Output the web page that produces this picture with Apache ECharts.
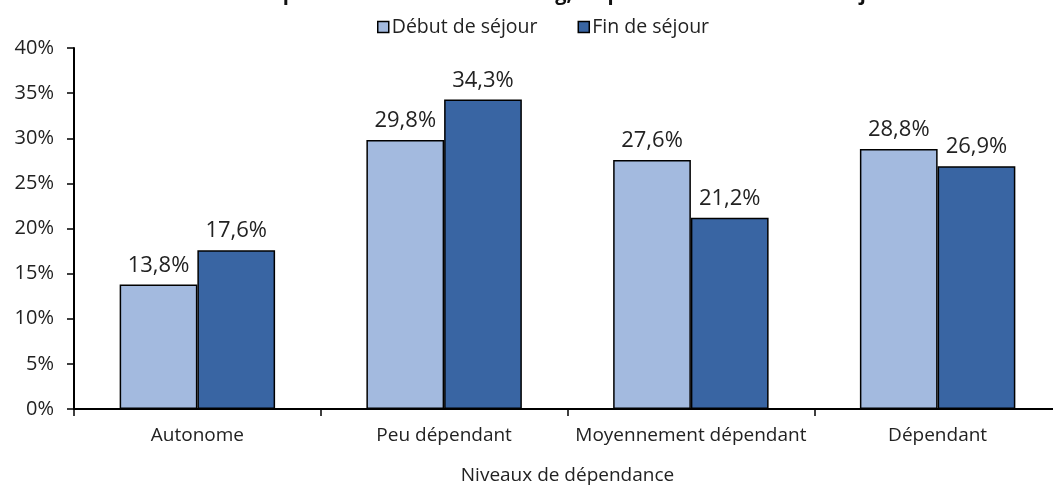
<!DOCTYPE html>
<html>
<head>
<meta charset="utf-8">
<script src="https://cdn.jsdelivr.net/npm/echarts@6/dist/echarts.min.js"></script>
<style>
  html, body { margin: 0; padding: 0; background: #fff; }
  #chart { width: 1053px; height: 485px; }
</style>
</head>
<body>
<div id="chart"></div>
<script>
var categories = ['Autonome', 'Peu dépendant', 'Moyennement dépendant', 'Dépendant'];
var debutSejour = [13.8, 29.8, 27.6, 28.8];
var finSejour = [17.6, 34.3, 21.2, 26.9];
var seriesNames = ['Début de séjour', 'Fin de séjour'];

var myChart = echarts.init(document.getElementById('chart'));

function pct(p) {
    return p.value.toFixed(1).replace('.', ',') + '%';
}

var font = 'Open Sans';

var option = {
    animation: false,
    textStyle: { fontFamily: font },
    title: {
        text: 'Niveau de dépendance des résidents long, en part du début et fin de séjour',
        left: 'center',
        top: -21,
        textStyle: { fontSize: 20, fontWeight: 'bold', color: '#111', fontFamily: font }
    },
    legend: {
        data: seriesNames,
        top: 12,
        left: 372,
        icon: 'rect',
        itemWidth: 11,
        itemHeight: 11,
        itemGap: 40,
        textStyle: { fontSize: 19.5, color: '#222', fontFamily: font, padding: [0, 0, 0, -2] },
        itemStyle: { borderColor: '#000', borderWidth: 1.5 }
    },
    grid: { left: 74, right: -8, top: 48, bottom: 76, containLabel: false, outerBoundsMode: 'none' },
    xAxis: {
        type: 'category',
        data: categories,
        name: 'Niveaux de dépendance',
        nameLocation: 'middle',
        nameGap: 57,
        nameTextStyle: { fontSize: 19, color: '#222', fontFamily: font },
        axisLine: { lineStyle: { color: '#000', width: 2 } },
        axisTick: { show: true, inside: false, length: 7, lineStyle: { color: '#000', width: 1.5 } },
        axisLabel: { interval: 0, fontSize: 19, color: '#222', margin: 17 }
    },
    yAxis: {
        type: 'value',
        min: 0,
        max: 40,
        interval: 5,
        axisLine: { show: true, lineStyle: { color: '#000', width: 2 } },
        axisTick: { show: true, length: 7, lineStyle: { color: '#000', width: 1.5 } },
        splitLine: { show: false },
        axisLabel: { fontSize: 20, color: '#222', margin: 20, formatter: '{value}%' }
    },
    series: [{
        name: seriesNames[0],
        type: 'bar',
        data: debutSejour,
        barGap: '0%',
        barCategoryGap: '37%',
        itemStyle: { color: '#A3BADF', borderColor: '#000', borderWidth: 1.5 },
        label: { show: true, position: 'top', distance: 8, fontSize: 22, color: '#222', formatter: pct }
    }, {
        name: seriesNames[1],
        type: 'bar',
        data: finSejour,
        itemStyle: { color: '#3965A3', borderColor: '#000', borderWidth: 1.5 },
        label: { show: true, position: 'top', distance: 8, fontSize: 22, color: '#222', formatter: pct }
    }]
};

myChart.setOption(option);
</script>
</body>
</html>
